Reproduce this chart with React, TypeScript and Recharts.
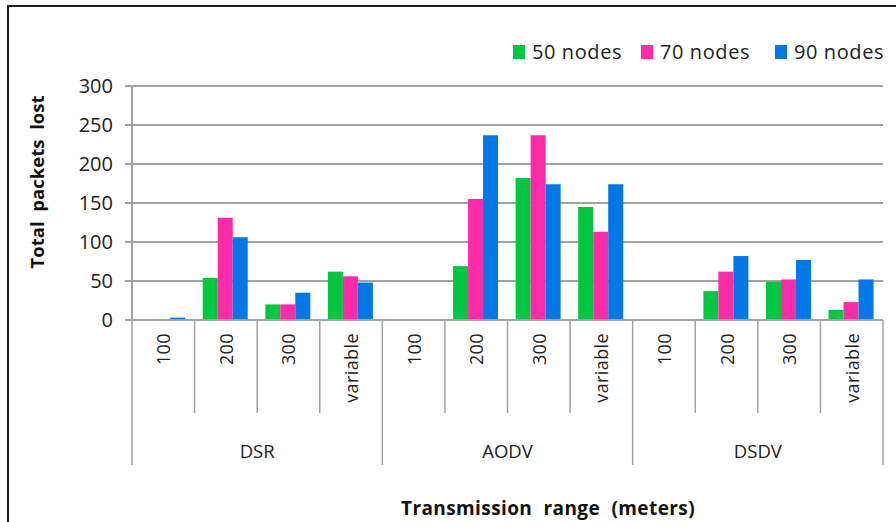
import { BarChart, Bar, XAxis, YAxis, CartesianGrid } from "recharts";

const groups = ["DSR", "AODV", "DSDV"];
const ranges = ["100", "200", "300", "variable"];

// values per group, in range order
const nodes50 = [0, 54, 20, 62, 0, 69, 182, 145, 0, 37, 49, 13];
const nodes70 = [0, 131, 20, 56, 0, 155, 237, 113, 0, 62, 52, 23];
const nodes90 = [3, 106, 35, 48, 0, 237, 174, 174, 0, 82, 77, 52];

const yTicks = [0, 50, 100, 150, 200, 250, 300];

const SERIES = [
  { key: "n50", name: "50 nodes", color: "#00c840", values: nodes50 },
  { key: "n70", name: "70 nodes", color: "#ff2aa8", values: nodes70 },
  { key: "n90", name: "90 nodes", color: "#0078e8", values: nodes90 },
];

const data = groups.flatMap((g, gi) =>
  ranges.map((r, ri) => {
    const i = gi * ranges.length + ri;
    return { cat: r, group: g, n50: nodes50[i], n70: nodes70[i], n90: nodes90[i] };
  })
);

const W = 896;
const H = 522;
const M = { top: 86, right: 13, left: 72, bottom: 57 };
const Y_W = 60;
const X_H = 145;
const BAND = (W - M.left - Y_W - M.right) / data.length;
const FONT = "'Open Sans', sans-serif";
const GRID = "#a3a3a3";
const LEGEND_X = [513, 641, 775];

function CategoryTick(props: any) {
  const { x, y, payload, index } = props;
  const first = index % ranges.length === 0;
  const last = index === data.length - 1;
  return (
    <g>
      <line x1={x - BAND / 2} x2={x - BAND / 2} y1={y} y2={y + (first ? X_H : 93)} stroke={GRID} strokeWidth={1.5} />
      {last && <line x1={x + BAND / 2} x2={x + BAND / 2} y1={y} y2={y + X_H} stroke={GRID} strokeWidth={1.5} />}
      <text
        x={x}
        y={y + 13}
        transform={`rotate(-90 ${x} ${y + 13})`}
        textAnchor="end"
        dominantBaseline="central"
        fontSize={18}
        fontFamily={FONT}
        letterSpacing={0.4}
        fill="#222"
      >
        {payload.value}
      </text>
      {index % ranges.length === 1 && (
        <text x={x + BAND / 2} y={y + 138} textAnchor="middle" fontSize={18.5} fontFamily={FONT} fill="#222">
          {data[index].group}
        </text>
      )}
    </g>
  );
}

export default function App() {
  return (
    <div style={{ position: "absolute", left: 0, top: 0, width: W, height: H, background: "#fff", overflow: "hidden" }}>
      <div
        style={{
          position: "absolute",
          left: 7,
          top: 5,
          right: -10,
          bottom: -10,
          borderLeft: "2px solid #1e1e1e",
          borderTop: "2px solid #1e1e1e",
        }}
      />
      <BarChart width={W} height={H} data={data} margin={M} barCategoryGap="13%" barGap={0}>
        <CartesianGrid vertical={false} stroke={GRID} strokeWidth={2} />
        <XAxis
          dataKey="cat"
          interval={0}
          height={X_H}
          tickSize={0}
          tickMargin={0}
          tickLine={false}
          axisLine={{ stroke: GRID, strokeWidth: 2 }}
          tick={<CategoryTick />}
        />
        <YAxis
          width={Y_W}
          domain={[0, 300]}
          ticks={yTicks}
          interval={0}
          tickSize={7}
          tickMargin={12}
          axisLine={{ stroke: GRID, strokeWidth: 2 }}
          tickLine={{ stroke: GRID, strokeWidth: 2 }}
          tick={{ fontSize: 20, fontFamily: FONT, fill: "#222" }}
        />
        {SERIES.map((s) => (
          <Bar key={s.key} dataKey={s.key} name={s.name} fill={s.color} isAnimationActive={false} />
        ))}
      </BarChart>

      {/* legend */}
      {SERIES.map((s, i) => (
        <div
          key={s.key}
          style={{
            position: "absolute",
            top: 38,
            left: LEGEND_X[i],
            display: "flex",
            alignItems: "center",
            fontFamily: FONT,
            fontSize: 20,
            letterSpacing: 0.6,
            color: "#222",
            whiteSpace: "nowrap",
          }}
        >
          <span style={{ display: "inline-block", width: 12, height: 14, background: s.color, marginRight: 7 }} />
          <span>{s.name}</span>
        </div>
      ))}

      {/* axis titles */}
      <div
        style={{
          position: "absolute",
          left: 36,
          top: 182,
          transform: "translate(-50%, -50%) rotate(-90deg)",
          whiteSpace: "nowrap",
          fontFamily: FONT,
          fontWeight: 700,
          fontSize: 18.5,
          color: "#111",
          wordSpacing: 5,
        }}
      >
        Total packets lost
      </div>
      <div
        style={{
          position: "absolute",
          left: 548,
          top: 508,
          transform: "translate(-50%, -50%)",
          whiteSpace: "nowrap",
          fontFamily: FONT,
          fontWeight: 700,
          fontSize: 19,
          color: "#111",
          wordSpacing: 6,
          letterSpacing: 0.4,
        }}
      >
        Transmission range (meters)
      </div>
    </div>
  );
}
